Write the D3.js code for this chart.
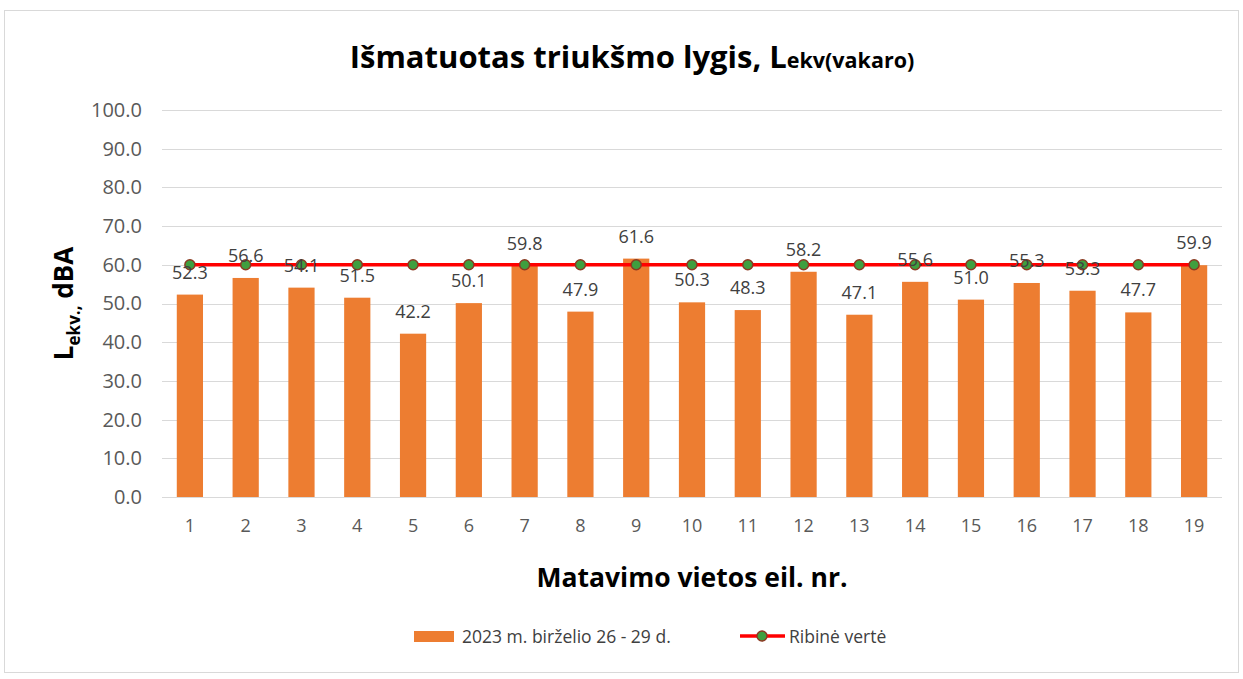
<!DOCTYPE html>
<html lang="lt">
<head>
  <meta charset="utf-8">
  <title>Išmatuotas triukšmo lygis</title>
  <script type="text/javascript" src="https://cdnjs.cloudflare.com/ajax/libs/d3/7.8.5/d3.min.js"></script>
  <style>
    body {
      margin: 0px;
      background: #ffffff;
    }
    svg, svg text {
      display: block;
      font-family: "Open Sans", "Liberation Sans", sans-serif;
    }
  </style>
</head>
<body>
  <script type="text/javascript">
    var width = 1243;
    var height = 679;

    // data
    var categories = ["1", "2", "3", "4", "5", "6", "7", "8", "9", "10",
                      "11", "12", "13", "14", "15", "16", "17", "18", "19"];
    var measured = [52.3, 56.6, 54.1, 51.5, 42.2, 50.1, 59.8, 47.9, 61.6, 50.3,
                    48.3, 58.2, 47.1, 55.6, 51.0, 55.3, 53.3, 47.7, 59.9];
    var limit = [60, 60, 60, 60, 60, 60, 60, 60, 60, 60,
                 60, 60, 60, 60, 60, 60, 60, 60, 60];
    var yTicks = [0, 10, 20, 30, 40, 50, 60, 70, 80, 90, 100];
    var seriesNames = ["2023 m. birželio 26 - 29 d.", "Ribinė vertė"];

    var margin = {left: 162, right: 21, top: 110, bottom: 182};
    var plotW = width - margin.left - margin.right;
    var plotH = height - margin.top - margin.bottom;

    var svg = d3.select("body").append("svg")
      .attr("width", width)
      .attr("height", height);

    // outer frame
    svg.append("rect")
      .attr("x", 4.5).attr("y", 10.5)
      .attr("width", 1234).attr("height", 662)
      .attr("fill", "#ffffff")
      .attr("stroke", "#d9d9d9");

    var x = d3.scaleBand()
      .domain(categories)
      .range([0, plotW])
      .paddingInner(0.53)
      .paddingOuter(0.265);

    var y = d3.scaleLinear()
      .domain([0, 100])
      .range([plotH, 0]);

    var g = svg.append("g")
      .attr("transform", "translate(" + margin.left + "," + margin.top + ")");

    // gridlines
    g.append("g")
      .selectAll("line")
      .data(yTicks.slice(1))
      .enter().append("line")
      .attr("x1", 0).attr("x2", plotW)
      .attr("y1", function (d) { return Math.round(y(d)) + 0.5; })
      .attr("y2", function (d) { return Math.round(y(d)) + 0.5; })
      .attr("stroke", "#d9d9d9")
      .attr("stroke-width", 1);

    // y axis labels
    var yAxis = d3.axisLeft(y)
      .tickValues(yTicks)
      .tickSize(0)
      .tickPadding(20)
      .tickFormat(d3.format(".1f"));
    g.append("g").call(yAxis)
      .attr("font-family", null)
      .call(function (s) { s.select(".domain").remove(); })
      .selectAll("text")
      .attr("fill", "#595959")
      .style("font-size", "20px");

    // bars
    g.selectAll(".bar")
      .data(measured)
      .enter().append("rect")
      .attr("class", "bar")
      .attr("x", function (d, i) { return x(categories[i]); })
      .attr("y", function (d) { return y(d); })
      .attr("width", x.bandwidth())
      .attr("height", function (d) { return plotH - y(d); })
      .attr("fill", "#ed7d31");

    // x axis
    var xAxis = d3.axisBottom(x).tickSize(0).tickPadding(22);
    var xg = g.append("g")
      .attr("transform", "translate(0," + plotH + ")")
      .call(xAxis)
      .attr("font-family", null);
    xg.select(".domain").attr("stroke", "#d9d9d9").attr("d", "M0,0.5H" + plotW);
    xg.selectAll("text")
      .attr("fill", "#595959")
      .style("font-size", "18px");

    // limit line
    var line = d3.line()
      .x(function (d, i) { return x(categories[i]) + x.bandwidth() / 2; })
      .y(function (d) { return y(d); });
    g.append("path")
      .datum(limit)
      .attr("d", line)
      .attr("fill", "none")
      .attr("stroke", "#ff0000")
      .attr("stroke-width", 3.5);

    g.selectAll(".marker")
      .data(limit)
      .enter().append("circle")
      .attr("class", "marker")
      .attr("cx", function (d, i) { return x(categories[i]) + x.bandwidth() / 2; })
      .attr("cy", function (d) { return y(d); })
      .attr("r", 5)
      .attr("fill", "#3f9f3f")
      .attr("stroke", "#8b3a22")
      .attr("stroke-width", 1.5);

    // value labels
    g.selectAll(".label")
      .data(measured)
      .enter().append("text")
      .attr("class", "label")
      .attr("x", function (d, i) { return x(categories[i]) + x.bandwidth() / 2; })
      .attr("y", function (d) { return y(d) - 16; })
      .attr("text-anchor", "middle")
      .attr("fill", "#404040")
      .style("font-size", "18px")
      .text(function (d) { return d.toFixed(1); });

    // title
    var title = svg.append("text")
      .attr("x", 632).attr("y", 68)
      .attr("text-anchor", "middle")
      .attr("fill", "#000000")
      .style("font-weight", "bold");
    title.append("tspan").style("font-size", "31px").text("Išmatuotas triukšmo lygis, ");
    title.append("tspan").style("font-size", "31px").text("L");
    title.append("tspan").style("font-size", "21.5px").text("ekv(vakaro)");

    // y axis title
    var yt = svg.append("text")
      .attr("transform", "translate(73," + (margin.top + plotH / 2) + ") rotate(-90)")
      .attr("text-anchor", "middle")
      .attr("fill", "#000000")
      .style("font-weight", "bold")
      .style("font-size", "26px");
    yt.append("tspan").text("L");
    yt.append("tspan").attr("dy", 7).style("font-size", "17px").text("ekv.,");
    yt.append("tspan").attr("dy", -7).text(" dBA");

    // x axis title
    svg.append("text")
      .attr("x", 692).attr("y", 587)
      .attr("text-anchor", "middle")
      .attr("fill", "#000000")
      .style("font-weight", "bold")
      .style("font-size", "26.5px")
      .text("Matavimo vietos eil. nr.");

    // legend
    var leg = svg.append("g");
    leg.append("rect")
      .attr("x", 414).attr("y", 631)
      .attr("width", 40).attr("height", 11)
      .attr("fill", "#ed7d31");
    leg.append("text")
      .attr("x", 462).attr("y", 643)
      .attr("fill", "#404040")
      .style("font-size", "17.5px")
      .text(seriesNames[0]);
    leg.append("line")
      .attr("x1", 740).attr("x2", 785)
      .attr("y1", 636).attr("y2", 636)
      .attr("stroke", "#ff0000")
      .attr("stroke-width", 3.5);
    leg.append("circle")
      .attr("cx", 762).attr("cy", 636).attr("r", 5)
      .attr("fill", "#3f9f3f")
      .attr("stroke", "#8b3a22")
      .attr("stroke-width", 1.5);
    leg.append("text")
      .attr("x", 789).attr("y", 643)
      .attr("fill", "#404040")
      .style("font-size", "17.5px")
      .text(seriesNames[1]);
  </script>
</body>
</html>
